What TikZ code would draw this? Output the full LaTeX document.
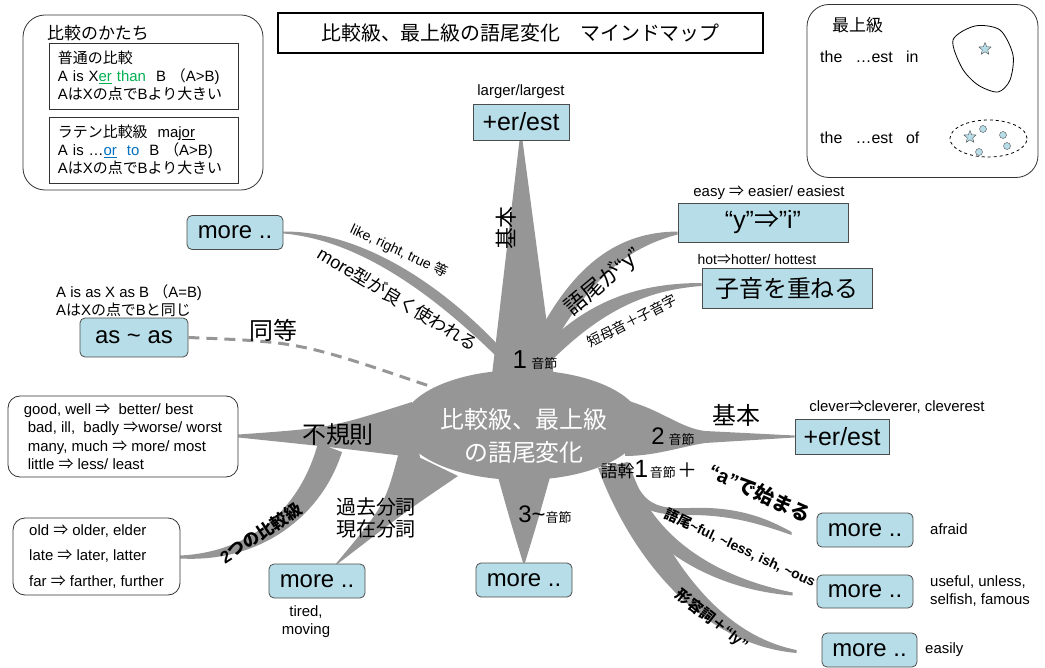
\documentclass[tikz,border=0pt]{standalone}
\usepackage{fontspec}
\setmainfont{Liberation Sans}
\newfontfamily\jpreg{Noto Sans CJK JP}
\let\jpfont\jpreg
\usetikzlibrary{shapes.geometric,backgrounds}

% Japanese runs pick their own font
\XeTeXinterchartokenstate=1
\newXeTeXintercharclass\jpclass
\newcount\jpcode
\def\jpset#1#2#3{\jpcode=#1\relax
  \loop\XeTeXcharclass\jpcode=#3\relax
  \ifnum\jpcode<#2 \advance\jpcode by 1 \repeat}
\jpset{0}{"FFFF}{0}
\jpset{"3000}{"30FF}{\jpclass}
\jpset{"4E00}{"9FFF}{\jpclass}
\jpset{"FF00}{"FFEF}{\jpclass}
\XeTeXcharclass"21D2=\jpclass
\XeTeXinterchartoks 0 \jpclass={\begingroup\jpfont}
\XeTeXinterchartoks 4095 \jpclass={\begingroup\jpfont}
\XeTeXinterchartoks \jpclass 0={\endgroup}
\XeTeXinterchartoks \jpclass 4095={\endgroup}

\definecolor{leafblue}{RGB}{183,222,232}
\definecolor{branchgray}{RGB}{150,150,150}
\definecolor{cmpgreen}{RGB}{0,176,80}
\definecolor{cmpblue}{RGB}{0,112,192}

\begin{document}
\begin{tikzpicture}[x=1bp,y=-1bp,
  leaf/.style={draw=black!70,line width=0.8bp,fill=leafblue,rounded corners=5bp,
    minimum width=96bp,minimum height=34bp,inner sep=0,font=\fontsize{24}{26}\selectfont},
  leafsq/.style={draw=black!70,line width=0.8bp,fill=leafblue,inner sep=0,
    font=\fontsize{25}{27}\selectfont},
  memo/.style={draw=black!80,line width=0.8bp,rounded corners=12bp,inner sep=0,
    align=left,font=\fontsize{15}{18.5}\selectfont},
  note/.style={inner sep=0,font=\fontsize{15}{18}\selectfont},
  lbl/.style={inner sep=0,font=\fontsize{24}{26}\selectfont},
  boldlbl/.style={inner sep=0,font=\fontsize{14}{16}\selectfont\bfseries},
  branch/.style={fill=branchgray},
  pebble/.style={circle,draw=black!70,fill=leafblue,minimum size=7bp,inner sep=0},
  starmark/.style={star,star points=5,star point ratio=2.3,draw=black!70,
    fill=leafblue,minimum size=13bp,inner sep=0}]

\useasboundingbox (0,0) rectangle (1045,668);

% comparison forms
\node[draw=black!80,line width=0.8bp,rounded corners=22bp,minimum width=240bp,minimum height=175bp] (formbox) at (143,102.5) {};
\node[inner sep=0,anchor=west,font=\fontsize{17}{20}\selectfont] (formtitle) at (47,33) {比較のかたち};
\node[draw=black!80,line width=0.8bp,minimum width=189bp,minimum height=66bp,text width=171bp,align=left,inner sep=0,font=\fontsize{15}{18}\selectfont] (plainbox) at (143.5,76)
  {普通の比較\\A is X\textcolor{cmpgreen}{\underline{er} than}\ \ B （A>B)\\AはXの点でBより大きい};
\node[draw=black!80,line width=0.8bp,minimum width=189bp,minimum height=66bp,text width=171bp,align=left,inner sep=0,font=\fontsize{15}{18}\selectfont] (latinbox) at (143.5,150)
  {ラテン比較級\ \ maj\underline{or}\\A is …\textcolor{cmpblue}{\underline{or}\ \ to}\ \ B （A>B)\\AはXの点でBより大きい};

% title
\node[draw,line width=1.6bp,minimum width=485bp,minimum height=40bp,font=\fontsize{20}{22}\selectfont] (title) at (520.5,33) {比較級、最上級の語尾変化　マインドマップ};

% superlative
\node[draw=black!80,line width=0.8bp,rounded corners=22bp,minimum width=231bp,minimum height=173bp] (supbox) at (922.5,91) {};
\node[inner sep=0,anchor=west,font=\fontsize{17}{20}\selectfont] (suptitle) at (832,25) {最上級};
\node[inner sep=0,anchor=west,font=\fontsize{16}{18}\selectfont] (supin) at (820,57) {the~~~…est~~~in};
\node[inner sep=0,anchor=west,font=\fontsize{16}{18}\selectfont] (supof) at (820,138) {the~~~…est~~~of};
\draw[line width=0.8bp] plot[smooth cycle] coordinates {(953,40) (975,26) (1000,30) (1013,55) (1010,80) (998,92) (978,85) (962,68)};
\node[starmark] (starin) at (985,49) {};
\draw[dashed,line width=0.8bp] (988.5,138.5) ellipse [x radius=38.5bp,y radius=18.5bp];
\node[starmark] (starof) at (970,137) {};
\foreach \p [count=\i] in {(983,129),(1003,135),(1007,146),(979,152)}
  \node[pebble] (pebble\i) at \p {};

% centre
\node[ellipse,fill=branchgray,minimum width=240bp,minimum height=110bp] (core) at (522,425) {};

% leaves
\node[leafsq,minimum width=96bp,minimum height=36bp] (topleaf) at (521,122) {+er/est};
\node[leaf] (moreA) at (235,232.5) {more ..};
\node[leaf,minimum width=108bp,minimum height=39bp] (asas) at (134,337.5) {as \textasciitilde\ as};
\node[leafsq,minimum width=170bp,minimum height=39bp] (yibox) at (763,222.5) {“y”⇒”i”};
\node[leafsq,minimum width=170bp,minimum height=40bp,font=\fontsize{24}{26}\selectfont] (shiin) at (787,288) {子音を重ねる};
\node[leafsq,minimum width=94bp,minimum height=35bp] (erest2) at (842,436.5) {+er/est};
\node[leaf] (moreB) at (865,530) {more ..};
\node[leaf,minimum height=33bp] (moreC) at (865,591.5) {more ..};
\node[leaf,minimum width=95bp] (moreD) at (869.5,650) {more ..};
\node[leaf] (moreE) at (524,580) {more ..};
\node[leaf] (moreF) at (317,581) {more ..};
\node[memo,minimum width=230bp,minimum height=81bp] (irreg) at (123,436.5)
  {good, well ⇒\ \ better/ best\\\hspace*{4bp}bad, ill,\ \ badly ⇒worse/ worst\\\hspace*{4bp}many, much ⇒ more/ most\\\hspace*{4bp}little ⇒ less/ least};
\node[memo,minimum width=167bp,minimum height=77bp,font=\fontsize{15}{25.5}\selectfont] (twocomp) at (96.5,556.5)
  {old ⇒ older, elder\\late ⇒ later, latter\\far ⇒ farther, further};

% examples
\node[note] (n1) at (521,92) {larger/largest};
\node[note] (n2) at (769,193) {easy ⇒ easier/ easiest};
\node[note,font=\fontsize{14}{16}\selectfont] (n3) at (757,260) {hot⇒hotter/ hottest};
\node[note] (n4) at (897,407) {clever⇒cleverer, cleverest};
\node[note,anchor=west] (n5) at (930,529) {afraid};
\node[note,anchor=west,align=left] (n6) at (930,591) {useful, unless,\\selfish, famous};
\node[note,anchor=west] (n7) at (925,650) {easily};
\node[note,align=center] (n8) at (306,622) {tired,\\moving};
\node[note,anchor=west,align=left] (n9) at (56,301) {A is as X as B （A=B)\\AはXの点でBと同じ};

% branches
\begin{scope}[on background layer]
  \fill[branch] (490,392) -- ([xshift=-1.5bp]topleaf.south) -- ([xshift=1.5bp]topleaf.south) -- (556,392) -- cycle;
  \fill[branch] (500,347) .. controls (440,283) and (360,231) .. ([yshift=1bp]moreA.east) -- ([yshift=-1bp]moreA.east) .. controls (360,240) and (436,296) .. (502,362) -- cycle;
  \fill[branch] (536,338) .. controls (575,262) and (620,232) .. ([yshift=-9bp]yibox.west) -- ([yshift=-12bp]yibox.west) .. controls (625,248) and (588,282) .. (550,350) -- cycle;
  \fill[branch] (545,345) .. controls (590,300) and (640,283) .. ([yshift=5bp]shiin.west) -- ([yshift=2bp]shiin.west) .. controls (645,290) and (600,312) .. (550,362) -- cycle;
  \fill[branch] (625,400) .. controls (662,410) and (680,428) .. (705,431) -- ([yshift=1bp]erest2.west) -- ([yshift=-1bp]erest2.west) -- (705,443) .. controls (680,447) and (655,456) .. (625,456) -- cycle;
  \fill[branch] (628,462) .. controls (640,500) and (650,510) .. (690,508) .. controls (740,506) and (770,520) .. ([xshift=-25bp,yshift=-2bp]moreB.west) -- ([xshift=-25bp,yshift=-5bp]moreB.west) .. controls (765,526) and (735,515) .. (690,515) .. controls (655,516) and (630,510) .. (612,470) -- cycle;
  \fill[branch] (628,462) .. controls (650,540) and (720,578) .. ([xshift=-24bp,yshift=-1bp]moreC.west) -- ([xshift=-24bp,yshift=-4bp]moreC.west) .. controls (717,590) and (638,550) .. (605,470) -- cycle;
  \fill[branch] (628,462) .. controls (665,560) and (720,635) .. ([xshift=-25bp]moreD.west) -- ([xshift=-25bp,yshift=-3bp]moreD.west) .. controls (703,645) and (632,560) .. (598,468) -- cycle;
  \fill[branch] (496,470) .. controls (510,520) .. ([xshift=-1bp]moreE.north) -- ([xshift=1bp]moreE.north) .. controls (538,520) .. (552,470) -- cycle;
  \fill[branch] (400,448) .. controls (385,505) .. ([xshift=19bp]moreF.north) -- ([xshift=21bp]moreF.north) .. controls (405,512) .. (458,476) -- cycle;
  \fill[branch] ([yshift=2bp]irreg.east) .. controls (330,428) .. (412,402) -- (420,458) .. controls (330,447) .. ([yshift=-1bp]irreg.east) -- cycle;
  \fill[branch] (318,443) .. controls (300,510) and (250,552) .. ([yshift=1bp]twocomp.east) -- ([yshift=-2bp]twocomp.east) .. controls (262,563) and (322,515) .. (342,452) -- cycle;
\end{scope}
\draw[branchgray,line width=3bp,dash pattern=on 11bp off 7bp] (asas.east) .. controls (300,342) .. (core.157);

% branch labels
\node[inner sep=0,align=center,text=white,font=\fontsize{24}{33}\selectfont] (coretext) at (524,436) {比較級、最上級\\の語尾変化};
\node[lbl,font=\fontsize{22}{24}\selectfont,rotate=90] (kihon1) at (506,228) {基本};
\node[lbl,font=\fontsize{26}{28}\selectfont] (syl1) at (535,360) {1\,{\fontsize{13}{14}\selectfont 音節}};
\node[lbl] (syl2) at (673,437) {2\,{\fontsize{13}{14}\selectfont 音節}};
\node[lbl] (syl3) at (545,515) {3\textasciitilde{\fontsize{13}{14}\selectfont 音節}};
\node[inner sep=0] (stem1) at (649,470) {{\fontsize{17}{18}\selectfont 語幹}{\fontsize{25}{26}\selectfont 1}\,{\fontsize{13}{14}\selectfont 音節}\,{\fontsize{20}{20}\selectfont ＋}};
\node[inner sep=0,rotate=-25,font=\fontsize{14}{16}\selectfont] (likes) at (399,251) {like, right, true 等};
\node[inner sep=0,rotate=-31,font=\fontsize{18}{20}\selectfont] (moretype) at (398,299) {more型が良く使われる};
\node[lbl] (equal) at (273,330) {同等};
\node[lbl,font=\fontsize{22}{24}\selectfont,rotate=40] (gobi) at (603,282) {語尾が“y”};
\node[inner sep=0,rotate=27,font=\fontsize{14}{16}\selectfont] (tanbo) at (632,321) {短母音＋子音字};
\node[lbl] (kihon2) at (736,415) {基本};
\node[lbl] (fukisoku) at (338,435) {不規則};
\node[inner sep=0,font=\fontsize{17}{19}\selectfont\bfseries,rotate=33] (futatsu) at (261,533) {2つの比較級};
\node[inner sep=0,align=left,font=\fontsize{20}{23}\selectfont,anchor=west] (bunshi) at (336,518) {過去分詞\\現在分詞};
\node[inner sep=0,font=\fontsize{20}{22}\selectfont\bfseries,rotate=-25] (astart) at (760,493) {“a”で始まる};
\node[boldlbl,rotate=-25] (suffix) at (740,548) {語尾\textasciitilde ful, \textasciitilde less, ish, \textasciitilde ous};
\node[inner sep=0,font=\fontsize{15}{17}\selectfont\bfseries,rotate=-38] (adjly) at (712,620) {形容詞＋“ly”};
\end{tikzpicture}
\end{document}
